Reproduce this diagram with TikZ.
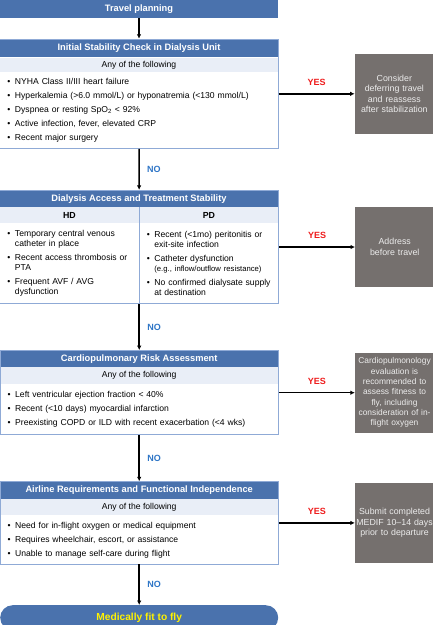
\documentclass[tikz,border=0pt]{standalone}
\usepackage{fontspec}
\setmainfont{Liberation Sans}
\usepackage{xcolor}
\usetikzlibrary{arrows.meta,positioning,fit}

\definecolor{hdblue}{RGB}{74,114,173}
\definecolor{subblue}{RGB}{233,238,247}
\definecolor{frameblue}{RGB}{143,170,214}
\definecolor{outgray}{RGB}{117,112,110}
\definecolor{outtext}{RGB}{236,236,236}
\definecolor{yesred}{RGB}{238,28,28}
\definecolor{noblue}{RGB}{46,117,198}
\definecolor{fityellow}{RGB}{255,242,0}

\newcommand{\itm}{\makebox[7.5pt][l]{\textbullet}}
\newcommand{\cnt}{\hspace*{7.5pt}}

\begin{document}
\begin{tikzpicture}[
    x=1pt, y=1pt,
    head/.style={fill=hdblue, text=white, minimum width=278pt, inner sep=0pt, font=\fontsize{9.3}{11}\selectfont\bfseries},
    sub/.style={fill=subblue, minimum width=278pt, inner sep=0pt, font=\fontsize{8.6}{10}\selectfont},
    half/.style={minimum width=139pt},
    body/.style={fill=white, inner xsep=7.5pt, inner ysep=0pt, text width=263pt, align=left, font=\fontsize{8.6}{10}\selectfont},
    frame/.style={draw=frameblue, line width=0.9pt, inner sep=0pt},
    outcome/.style={fill=outgray, text=outtext, minimum width=79pt, minimum height=80pt, text width=78pt, inner sep=0pt, align=center, font=\fontsize{8.8}{10.5}\selectfont},
    final/.style={fill=hdblue, text=fityellow, rounded corners=12.5pt, minimum width=278pt, minimum height=25pt, inner sep=0pt, font=\fontsize{10.2}{12}\selectfont\bfseries},
    yes/.style={text=yesred, font=\fontsize{9}{10}\selectfont\bfseries},
    no/.style={text=noblue, font=\fontsize{9}{10}\selectfont\bfseries},
    flow/.style={->, line width=1.5pt},
    >={Latex[length=4.5pt,width=4.5pt]}
]

\useasboundingbox (0,0) rectangle (433,-625);

\node[head, minimum height=18pt] (travel) at (139,-9) {Travel planning};

\node[head, minimum height=18pt, below=21pt of travel] (s1) {Initial Stability Check in Dialysis Unit};
\node[sub, minimum height=14pt, below=0pt of s1] (s1any) {Any of the following};
\node[body, minimum height=76pt, below=0pt of s1any] (s1list) {\itm NYHA Class II/III heart failure\\[4pt]
    \itm Hyperkalemia (>6.0 mmol/L) or hyponatremia (<130 mmol/L)\\[4pt]
    \itm Dyspnea or resting SpO\textsubscript{2} < 92\%\\[4pt]
    \itm Active infection, fever, elevated CRP\\[4pt]
    \itm Recent major surgery};
\node[frame, fit=(s1)(s1list)] (b1) {};

\node[head, minimum height=16pt, below=42pt of s1list] (s2) {Dialysis Access and Treatment Stability};
\node[sub, half, minimum height=16pt, font=\fontsize{8.8}{10}\selectfont\bfseries, below right=0pt and 0pt of s2.south west] (hd) {HD};
\node[sub, half, minimum height=16pt, font=\fontsize{8.8}{10}\selectfont\bfseries, right=0pt of hd] (pd) {PD};
\node[body, text width=124pt, minimum height=80pt, below=0pt of hd] (hdlist) {\itm Temporary central venous\\ \cnt catheter in place\\[4pt]
    \itm Recent access thrombosis or\\ \cnt PTA\\[4pt]
    \itm Frequent AVF / AVG\\ \cnt dysfunction};
\node[body, text width=124pt, minimum height=80pt, below=0pt of pd] (pdlist) {\itm Recent (<1mo) peritonitis or\\ \cnt exit-site infection\\[4pt]
    \itm Catheter dysfunction\\ \cnt {\fontsize{7.7}{9}\selectfont (e.g., inflow/outflow resistance)}\\[4pt]
    \itm No confirmed dialysate supply\\ \cnt at destination};
\node[frame, fit=(s2)(hdlist)(pdlist)] (b2) {};
\draw[draw=frameblue, line width=0.9pt] (hd.north east) -- (hdlist.south east);

\node[head, minimum height=16pt, below=47pt of hdlist.south east] (s3) {Cardiopulmonary Risk Assessment};
\node[sub, minimum height=17pt, below=0pt of s3] (s3any) {Any of the following};
\node[body, minimum height=50pt, below=0pt of s3any] (s3list) {\itm Left ventricular ejection fraction < 40\%\\[4pt]
    \itm Recent (<10 days) myocardial infarction\\[4pt]
    \itm Preexisting COPD or ILD with recent exacerbation (<4 wks)};
\node[frame, fit=(s3)(s3list)] (b3) {};

\node[head, minimum height=17pt, below=47pt of s3list] (s4) {Airline Requirements and Functional Independence};
\node[sub, minimum height=16pt, below=0pt of s4] (s4any) {Any of the following};
\node[body, minimum height=48pt, below=0pt of s4any] (s4list) {\itm Need for in-flight oxygen or medical equipment\\[4pt]
    \itm Requires wheelchair, escort, or assistance\\[4pt]
    \itm Unable to manage self-care during flight};
\node[frame, fit=(s4)(s4list)] (b4) {};

\node[final, below=41pt of s4list] (fit) {Medically fit to fly};

\node[outcome, right=76pt of b1] (o1) {Consider\\deferring travel\\and reassess\\after stabilization};
\node[outcome, right=76pt of b2] (o2) {Address\\before travel};
\node[outcome, font=\fontsize{8.4}{10.3}\selectfont, right=76pt of b3] (o3) {Cardiopulmonology\\evaluation is\\recommended to\\assess fitness to\\fly, including\\consideration of in-\\flight oxygen};
\node[outcome, right=76pt of b4] (o4) {Submit completed\\MEDIF 10--14 days\\prior to departure};

\draw[flow] (travel) -- (b1);
\draw[flow] (b1) -- node[no, right=4pt] {NO} (b2);
\draw[flow] (b2) -- node[no, right=4pt] {NO} (b3);
\draw[flow] (b3) -- node[no, right=4pt] {NO} (b4);
\draw[flow] (b4) -- node[no, right=4pt] {NO} (fit);

\draw[flow] (b1) -- node[yes, above=4pt] {YES} (o1);
\draw[flow] (b2) -- node[yes, above=4pt] {YES} (o2);
\draw[flow] (b3) -- node[yes, above=4pt] {YES} (o3);
\draw[flow] (b4) -- node[yes, above=4pt] {YES} (o4);

\end{tikzpicture}
\end{document}
